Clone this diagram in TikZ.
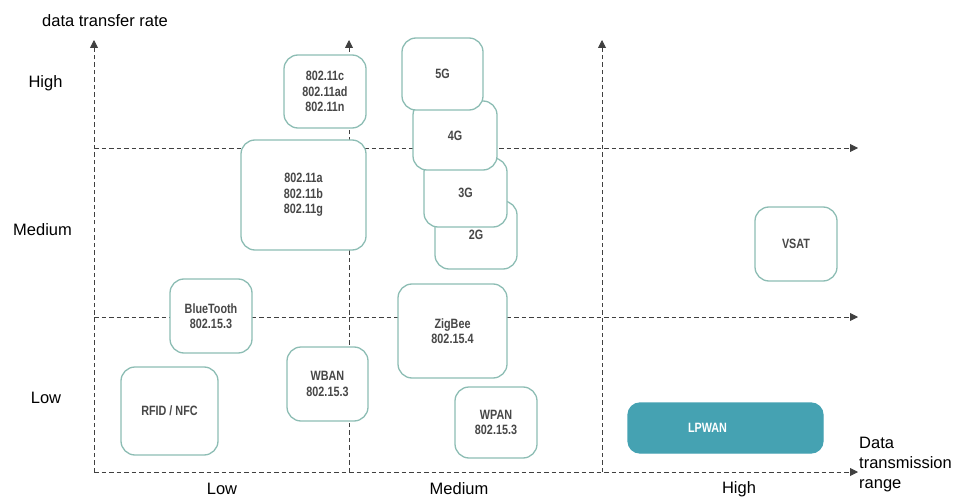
\documentclass[tikz,border=0pt]{standalone}
\usepackage{fontspec}
\setmainfont{Liberation Sans}
\newfontfamily\boxfont[FakeStretch=0.8]{Liberation Sans}
\usetikzlibrary{arrows.meta}
\definecolor{boxline}{HTML}{8DBDB4}
\definecolor{lpfill}{HTML}{45A2B2}
\definecolor{axisgray}{HTML}{404040}
\definecolor{boxtext}{HTML}{474747}
\tikzset{
  axe/.style={draw=axisgray, line width=0.9pt, dash pattern=on 4.5pt off 3pt,
    -{Triangle[length=8pt,width=8pt]}},
  techbox/.style={draw=boxline, line width=1.3pt, fill=white, rounded corners=14pt,
    align=center, inner sep=0pt, text=boxtext,
    font=\boxfont\bfseries\fontsize{13.5}{15.5}\selectfont},
  lab/.style={font=\fontsize{16.5}{20}\selectfont, inner sep=0pt},
}
\begin{document}
\begin{tikzpicture}[x=1pt,y=-1pt]  % ------ range / rate map ---------------
    \useasboundingbox (0,0) rectangle (958,497);
    \coordinate (O)    at (94,472);
    \coordinate (Ytop) at (94,40);
    \coordinate (M)    at (349,472);
    \coordinate (Mtop) at (349,40);
    \coordinate (H)    at (602,472);
    \coordinate (Htop) at (602,40);
    \coordinate (Lo)   at (94,317);
    \coordinate (Loend) at (858,317);
    \coordinate (Me)   at (94,148);
    \coordinate (Meend) at (858,148);
    \coordinate (Xend) at (858,472);

    \draw [axe] (O) -- (Ytop) ;
    \draw [axe] (M) -- (Mtop) ;
    \draw [axe] (H) -- (Htop) ;
    \draw [axe] (Lo) -- (Loend) ;
    \draw [axe] (Me) -- (Meend) ;
    \draw [axe] (O) -- (Xend) ;

    % boxes, lower ones first
    \node [techbox, minimum width=82pt, minimum height=68pt] (G2) at (476,235) {2G};
    \node [techbox, minimum width=83pt, minimum height=69pt] (G3) at (465.5,192.5) {3G};
    \node [techbox, minimum width=84pt, minimum height=69pt] (G4) at (455,135.5) {4G};
    \node [techbox, minimum width=81pt, minimum height=72pt] (G5) at (442.5,74) {5G};
    \node [techbox, minimum width=82pt, minimum height=73pt] (Wc) at (325,91.5) {802.11c\\802.11ad\\802.11n};
    \node [techbox, minimum width=125pt, minimum height=110pt] (Wa) at (303.5,195) {802.11a\\802.11b\\802.11g};
    \node [techbox, minimum width=82pt, minimum height=74pt] (VSAT) at (796,244) {VSAT};
    \node [techbox, minimum width=82pt, minimum height=74pt] (BT) at (211,316) {BlueTooth\\802.15.3};
    \node [techbox, minimum width=97pt, minimum height=88pt] (RFID) at (169.5,411) {RFID / NFC};
    \node [techbox, minimum width=81pt, minimum height=74pt] (WBAN) at (327.5,384) {WBAN\\802.15.3};
    \node [techbox, minimum width=109pt, minimum height=94pt] (ZB) at (452.5,331) {ZigBee\\802.15.4};
    \node [techbox, minimum width=82pt, minimum height=71pt] (WPAN) at (496,422.5) {WPAN\\802.15.3};
    \node [techbox, draw=lpfill, fill=lpfill, text=white, minimum width=195pt, minimum height=50pt,
           rounded corners=12pt] (LPWAN) at (725.5,428) {\hspace*{-36pt}LPWAN};

    % axis labels
    \node [lab, anchor=base west] (rate) at (42,27) {data transfer rate};
    \node [lab, anchor=base] (yhigh) at (45.5,88) {High};
    \node [lab, anchor=base] (ymed) at (42.5,235) {Medium};
    \node [lab, anchor=base] (ylow) at (46,403) {Low};
    \node [lab, anchor=base] (xlow) at (222,494) {Low};
    \node [lab, anchor=base] (xmed) at (459,494) {Medium};
    \node [lab, anchor=base] (xhigh) at (739,493) {High};
    \node [lab, anchor=north west, align=left] (range) at (859,437) {Data\\transmission\\range};
\end{tikzpicture}
\end{document}
